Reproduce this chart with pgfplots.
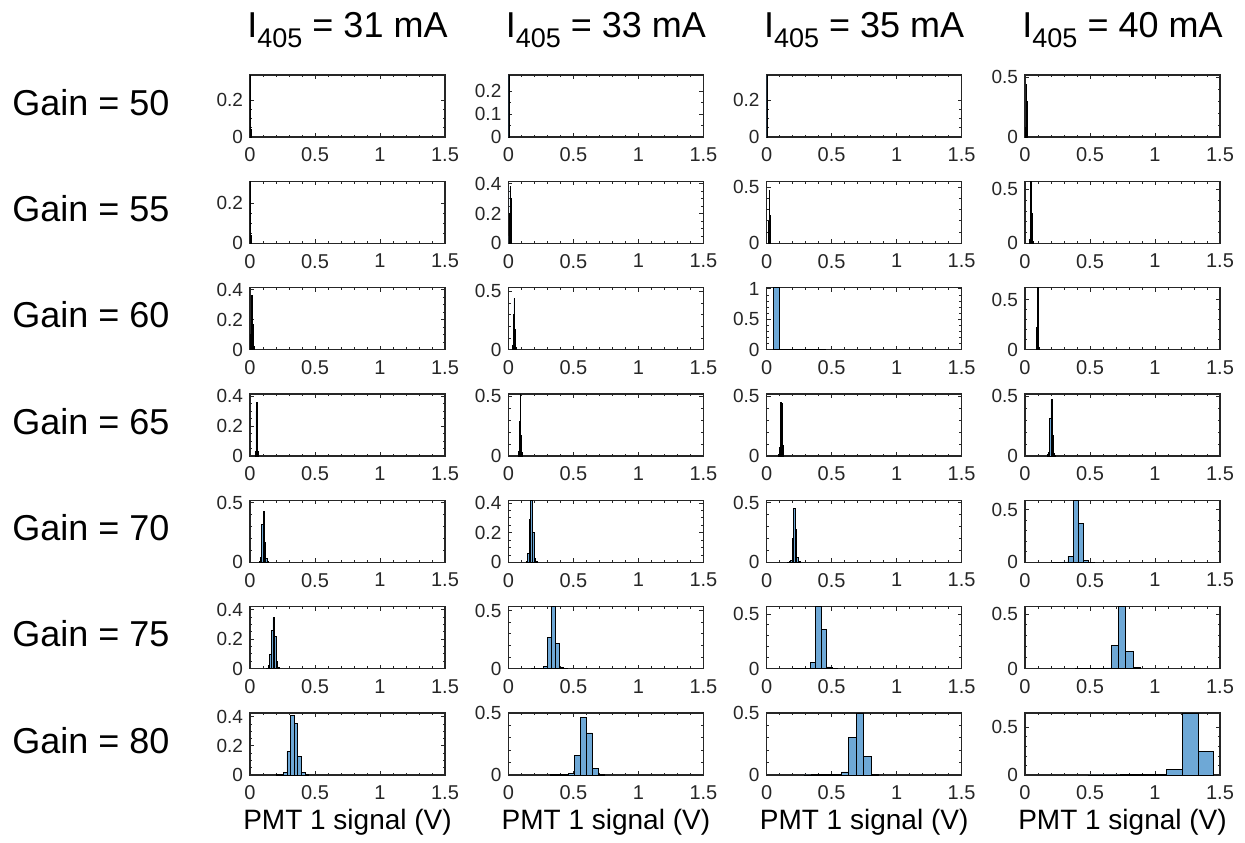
\documentclass[border=0pt]{standalone}
\usepackage{fontspec}
\setmainfont{Liberation Sans}
\usepackage{pgfplots}
\pgfplotsset{compat=1.18}

\definecolor{axgray}{RGB}{38,38,38}
\definecolor{histblue}{RGB}{110,168,214}

% one panel = 195 x 62 px, 1 px = 0.5 pt
\pgfplotsset{
  pan/.style={
    scale only axis, width=97.5pt, height=31pt, anchor=north west,
    xmin=0, xmax=1.5, ymin=0, xtick={0,0.5,1,1.5}, minor x tick num=4,
    tick align=inside, axis line style={draw=axgray, line width=0.55pt},
    every tick/.style={axgray, line width=0.4pt},
    major tick length=2pt, minor tick length=1.2pt,
    /pgf/number format/assume math mode=true,
    xticklabel style={font=\fontsize{10}{10}\selectfont, text=axgray, yshift=-1.8pt},
    yticklabel style={font=\fontsize{9.5}{9.5}\selectfont, text=axgray},
  },
  bot/.style={xlabel={PMT 1 signal (V)},
    every axis x label/.style={font=\fontsize{14}{14}\selectfont, at={(0.5,0)}, anchor=base, yshift=-27pt}},
  top/.style={title={I\raisebox{-0.28em}{\fontsize{13.5}{13.5}\selectfont 405} = #1 mA},
    every axis title/.style={font=\fontsize{18}{18}\selectfont, at={(0.5,1)}, anchor=base, yshift=19pt}},
  hist/.style={ybar interval, fill=histblue, draw=black, line width=0.35pt},
}

\begin{document}
\begin{tikzpicture}
\path[use as bounding box] (0,0) rectangle (622.5pt,-421pt);

% ---------- Gain = 50 ----------
\begin{axis}[pan, top=31, at={(125pt,-37.5pt)}, ymax=0.335, ytick={0,0.2}, minor y tick num=3]
\addplot[hist] table {
0 0.335
0.004 0.04
0.008 0
};
\end{axis}
\begin{axis}[pan, top=33, at={(254.2pt,-37.5pt)}, ymax=0.27, ytick={0,0.1,0.2}, minor y tick num=1]
\addplot[hist] table {
0 0.27
0.004 0.03
0.008 0
};
\end{axis}
\begin{axis}[pan, top=35, at={(383.3pt,-37.5pt)}, ymax=0.335, ytick={0,0.2}, minor y tick num=3]
\addplot[hist] table {
0 0.335
0.004 0.05
0.008 0
};
\end{axis}
\begin{axis}[pan, top=40, at={(512.5pt,-37.5pt)}, ymax=0.52, ytick={0,0.5}, minor y tick num=4]
\addplot[hist] table {
0.004 0.08
0.008 0.44
0.012 0.3
0.016 0.06
0.02 0
};
\end{axis}

% ---------- Gain = 55 ----------
\begin{axis}[pan, at={(125pt,-90.7pt)}, ymax=0.31, ytick={0,0.2}, minor y tick num=3]
\addplot[hist] table {
0 0.31
0.004 0.04
0.008 0
};
\end{axis}
\begin{axis}[pan, at={(254.2pt,-90.7pt)}, ymax=0.415, ytick={0,0.2,0.4}, minor y tick num=3]
\addplot[hist] table {
0.004 0.05
0.008 0.2
0.012 0.38
0.016 0.3
0.02 0.07
0.024 0
};
\end{axis}
\begin{axis}[pan, at={(383.3pt,-90.7pt)}, ymax=0.55, ytick={0,0.5}, minor y tick num=4]
\addplot[hist] table {
0.012 0.03
0.016 0.2
0.02 0.47
0.024 0.25
0.028 0.04
0.032 0
};
\end{axis}
\begin{axis}[pan, at={(512.5pt,-90.7pt)}, ymax=0.574, ytick={0,0.5}, minor y tick num=4]
\addplot[hist] table {
0.036 0.04
0.042 0.574
0.048 0.28
0.054 0.14
0.06 0.02
0.066 0
};
\end{axis}

% ---------- Gain = 60 ----------
\begin{axis}[pan, at={(125pt,-143.8pt)}, ymax=0.415, ytick={0,0.2,0.4}, minor y tick num=3]
\addplot[hist] table {
0.005 0.1
0.01 0.36
0.015 0.34
0.02 0.17
0.025 0.02
0.03 0
};
\end{axis}
\begin{axis}[pan, at={(254.2pt,-143.8pt)}, ymax=0.533, ytick={0,0.5}, minor y tick num=4]
\addplot[hist] table {
0.03 0.04
0.036 0.3
0.042 0.44
0.048 0.17
0.054 0.02
0.06 0
};
\end{axis}
\begin{axis}[pan, at={(383.3pt,-143.8pt)}, ymax=1.02, ytick={0,0.5,1}, minor y tick num=4]
\addplot[hist] table {
0.05 1.02
0.1 0.004
0.15 0.003
0.2 0.002
0.25 0.002
0.3 0.001
0.35 0.001
0.4 0.001
0.45 0
};
\end{axis}
\begin{axis}[pan, at={(512.5pt,-143.8pt)}, ymax=0.62, ytick={0,0.5}, minor y tick num=4]
\addplot[hist] table {
0.085 0.02
0.09 0.22
0.095 0.62
0.1 0.16
0.105 0.02
0.11 0
};
\end{axis}

% ---------- Gain = 65 ----------
\begin{axis}[pan, at={(125pt,-197pt)}, ymax=0.415, ytick={0,0.2,0.4}, minor y tick num=3]
\addplot[hist] table {
0.04 0.03
0.045 0.3
0.05 0.356
0.055 0.17
0.06 0.03
0.065 0
};
\end{axis}
\begin{axis}[pan, at={(254.2pt,-197pt)}, ymax=0.516, ytick={0,0.5}, minor y tick num=4]
\addplot[hist] table {
0.075 0.01
0.08 0.04
0.085 0.29
0.09 0.516
0.095 0.17
0.1 0.03
0.105 0
};
\end{axis}
\begin{axis}[pan, at={(383.3pt,-197pt)}, ymax=0.52, ytick={0,0.5}, minor y tick num=4]
\addplot[hist] table {
0.09 0.01
0.097 0.07
0.104 0.45
0.111 0.44
0.118 0.09
0.125 0.01
0.132 0
};
\end{axis}
\begin{axis}[pan, at={(512.5pt,-197pt)}, ymax=0.516, ytick={0,0.5}, minor y tick num=4]
\addplot[hist] table {
0.175 0.01
0.183 0.03
0.191 0.31
0.199 0.47
0.207 0.17
0.215 0.02
0.223 0.005
0.231 0
};
\end{axis}

% ---------- Gain = 70 ----------
\begin{axis}[pan, at={(125pt,-250.2pt)}, ymax=0.52, ytick={0,0.5}, minor y tick num=4]
\addplot[hist] table {
0.07 0.01
0.08 0.04
0.09 0.32
0.1 0.43
0.11 0.17
0.12 0.03
0.13 0.005
0.14 0
};
\end{axis}
\begin{axis}[pan, at={(254.2pt,-250.2pt)}, ymax=0.417, ytick={0,0.2,0.4}, minor y tick num=3]
\addplot[hist] table {
0.136 0.005
0.148 0.06
0.16 0.29
0.172 0.417
0.184 0.2
0.196 0.03
0.208 0.005
0.22 0
};
\end{axis}
\begin{axis}[pan, at={(383.3pt,-250.2pt)}, ymax=0.52, ytick={0,0.5}, minor y tick num=4]
\addplot[hist] table {
0.16 0.002
0.172 0.005
0.184 0.02
0.196 0.2
0.208 0.45
0.22 0.28
0.232 0.04
0.244 0.005
0.256 0
};
\end{axis}
\begin{axis}[pan, at={(512.5pt,-250.2pt)}, ymax=0.587, ytick={0,0.5}, minor y tick num=4]
\addplot[hist] table {
0.21 0.002
0.25 0.002
0.29 0.005
0.33 0.06
0.37 0.587
0.41 0.37
0.45 0.015
0.49 0.003
0.53 0
};
\end{axis}

% ---------- Gain = 75 ----------
\begin{axis}[pan, at={(125pt,-303.3pt)}, ymax=0.42, ytick={0,0.2,0.4}, minor y tick num=3]
\addplot[hist] table {
0.128 0.003
0.14 0.02
0.152 0.1
0.164 0.26
0.176 0.345
0.188 0.22
0.2 0.05
0.212 0.01
0.224 0
};
\end{axis}
\begin{axis}[pan, at={(254.2pt,-303.3pt)}, ymax=0.535, ytick={0,0.5}, minor y tick num=4]
\addplot[hist] table {
0.18 0.002
0.21 0.003
0.24 0.005
0.27 0.02
0.3 0.27
0.33 0.535
0.36 0.216
0.39 0.01
0.42 0.002
0.45 0
};
\end{axis}
\begin{axis}[pan, at={(383.3pt,-303.3pt)}, ymax=0.567, ytick={0,0.5}, minor y tick num=4]
\addplot[hist] table {
0.208 0.002
0.25 0.002
0.292 0.004
0.334 0.06
0.376 0.567
0.418 0.357
0.46 0.015
0.502 0.003
0.544 0
};
\end{axis}
\begin{axis}[pan, at={(512.5pt,-303.3pt)}, ymax=0.567, ytick={0,0.5}, minor y tick num=4]
\addplot[hist] table {
0.39 0.001
0.445 0.002
0.5 0.002
0.555 0.003
0.61 0.007
0.665 0.21
0.72 0.567
0.775 0.16
0.83 0.008
0.885 0
};
\end{axis}

% ---------- Gain = 80 ----------
\begin{axis}[pan, bot, at={(125pt,-356.5pt)}, ymax=0.425, ytick={0,0.2,0.4}, minor y tick num=3]
\addplot[hist] table {
0.2 0.002
0.228 0.004
0.256 0.02
0.284 0.16
0.312 0.41
0.34 0.355
0.368 0.13
0.396 0.015
0.424 0.002
0.452 0
};
\end{axis}
\begin{axis}[pan, bot, at={(254.2pt,-356.5pt)}, ymax=0.5, ytick={0,0.5}, minor y tick num=4]
\addplot[hist] table {
0.324 0.002
0.37 0.003
0.416 0.005
0.462 0.012
0.508 0.156
0.554 0.465
0.6 0.34
0.646 0.056
0.692 0.005
0.738 0
};
\end{axis}
\begin{axis}[pan, bot, at={(383.3pt,-356.5pt)}, ymax=0.5, ytick={0,0.5}, minor y tick num=4]
\addplot[hist] table {
0.29 0.001
0.347 0.002
0.404 0.002
0.461 0.003
0.518 0.005
0.575 0.025
0.632 0.3
0.689 0.5
0.746 0.148
0.803 0.005
0.86 0
};
\end{axis}
\begin{axis}[pan, bot, at={(512.5pt,-356.5pt)}, ymax=0.65, ytick={0,0.5}, minor y tick num=4]
\addplot[hist] table {
0.49 0.001
0.61 0.001
0.73 0.002
0.85 0.003
0.97 0.005
1.09 0.06
1.21 0.65
1.33 0.25
1.45 0
};
\end{axis}

% row labels
\foreach \g [count=\i from 0] in {50,55,60,65,70,75,80}
  \node[anchor=base west, inner sep=0pt, font=\fontsize{18}{18}\selectfont]
    at (6pt,{-57.5pt-53.17pt*\i}) {Gain = \g};
\end{tikzpicture}
\end{document}
